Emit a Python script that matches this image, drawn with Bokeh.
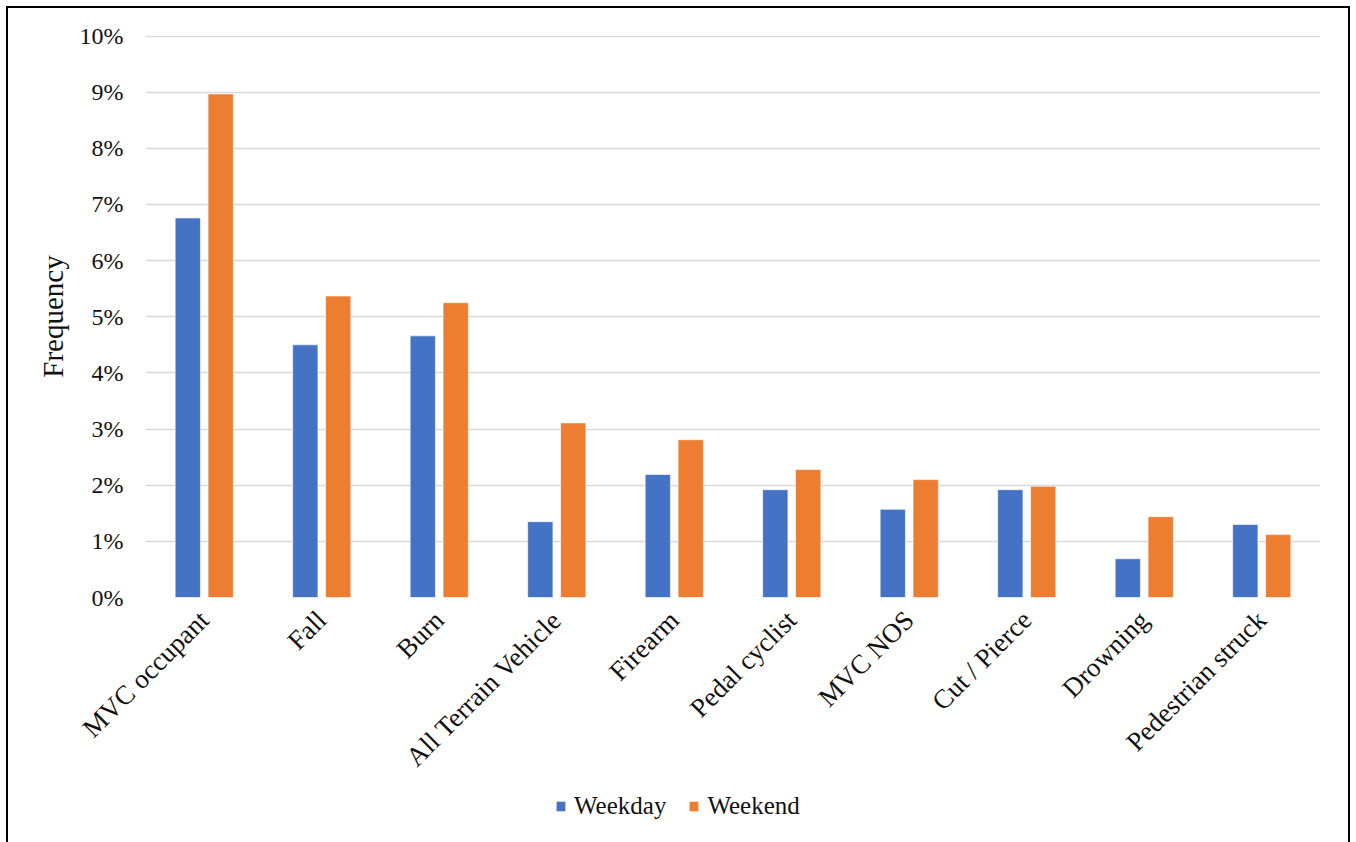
import math
from bokeh.plotting import figure
from bokeh.layouts import column
from bokeh.models import (ColumnDataSource, FactorRange, Range1d, FixedTicker,
                          NumeralTickFormatter, Legend, LegendItem)
from bokeh.transform import dodge
from bokeh.embed import file_html
from bokeh.resources import INLINE

categories = ["MVC occupant", "Fall", "Burn", "All Terrain Vehicle", "Firearm",
              "Pedal cyclist", "MVC NOS", "Cut / Pierce", "Drowning", "Pedestrian struck"]
weekday = [0.0676, 0.0450, 0.0466, 0.0135, 0.0219, 0.0192, 0.0157, 0.0192, 0.0069, 0.0130]
weekend = [0.0897, 0.0537, 0.0525, 0.0311, 0.0281, 0.0228, 0.0210, 0.0198, 0.0144, 0.0112]
y_ticks = [i / 100 for i in range(0, 11)]
series_labels = ["Weekday", "Weekend"]

FONT = "Liberation Serif"
BLUE = "#4472C4"
ORANGE = "#ED7D31"

src = ColumnDataSource(dict(cat=categories, weekday=weekday, weekend=weekend))

# ---------------- main chart ----------------
p = figure(width=1356, height=785, x_range=FactorRange(*categories),
           y_range=Range1d(0, 0.1001), output_backend="svg", toolbar_location=None,
           min_border_left=145, min_border_right=36, min_border_top=35,
           min_border_bottom=188)
p.outline_line_color = None
p.background_fill_color = None
p.border_fill_color = None

p.vbar(x=dodge("cat", -0.14, range=p.x_range), top="weekday", width=0.215,
       source=src, fill_color=BLUE, line_color="white", line_alpha=0.6, line_width=1)
p.vbar(x=dodge("cat", 0.14, range=p.x_range), top="weekend", width=0.215,
       source=src, fill_color=ORANGE, line_color="white", line_alpha=0.6, line_width=1)

p.yaxis.ticker = FixedTicker(ticks=y_ticks)
p.yaxis.formatter = NumeralTickFormatter(format="0%")
p.yaxis.axis_line_color = None
p.yaxis.major_tick_line_color = None
p.yaxis.minor_tick_line_color = None
p.yaxis.major_label_text_font = FONT
p.yaxis.major_label_text_font_size = "24px"
p.yaxis.major_label_text_color = "#111111"
p.yaxis.major_label_standoff = 16
p.yaxis.axis_label = "Frequency"
p.yaxis.axis_label_text_font = FONT
p.yaxis.axis_label_text_font_size = "29px"
p.yaxis.axis_label_text_font_style = "normal"
p.yaxis.axis_label_text_color = "#111111"
p.yaxis.axis_label_standoff = 8

p.xaxis.axis_line_color = None
p.xaxis.major_tick_line_color = None
p.xaxis.minor_tick_line_color = None
p.xaxis.major_label_orientation = math.pi / 4
p.xaxis.major_label_text_font = FONT
p.xaxis.major_label_text_font_size = "27px"
p.xaxis.major_label_text_color = "#111111"
p.xaxis.major_label_standoff = 12

p.xgrid.grid_line_color = None
p.ygrid.grid_line_color = "#d9d9d9"
p.ygrid.grid_line_width = 1.5

# ---------------- legend strip ----------------
q = figure(width=1356, height=57, x_range=FactorRange(*categories),
           y_range=Range1d(10, 11), output_backend="svg", toolbar_location=None,
           min_border=0, x_axis_type=None, y_axis_type=None)
q.outline_line_color = None
q.background_fill_color = None
q.border_fill_color = None
q.grid.grid_line_color = None
l1 = q.vbar(x=dodge("cat", -0.14, range=q.x_range), top="weekday", width=0.215,
            source=src, fill_color=BLUE, line_color=None)
l2 = q.vbar(x=dodge("cat", 0.14, range=q.x_range), top="weekend", width=0.215,
            source=src, fill_color=ORANGE, line_color=None)

legend = Legend(items=[LegendItem(label=series_labels[0], renderers=[l1]),
                       LegendItem(label=series_labels[1], renderers=[l2])],
                orientation="horizontal", location=(410, 22))
legend.label_text_font = FONT
legend.label_text_font_size = "25px"
legend.label_text_color = "#111111"
legend.glyph_width = 11
legend.glyph_height = 12
legend.label_standoff = 8
legend.spacing = 22
legend.padding = 4
legend.margin = 0
legend.border_line_color = None
legend.background_fill_alpha = 0
q.add_layout(legend, "center")

layout = column(p, q, spacing=0, styles={
    "background": ("linear-gradient(#000,#000) 6px 6px / 2px 100% no-repeat, "
                   "linear-gradient(#000,#000) 1348px 6px / 2px 100% no-repeat, "
                   "linear-gradient(#000,#000) 6px 6px / 1344px 2px no-repeat, #ffffff"),
})

open("out.html", "w").write(file_html(layout, INLINE))
